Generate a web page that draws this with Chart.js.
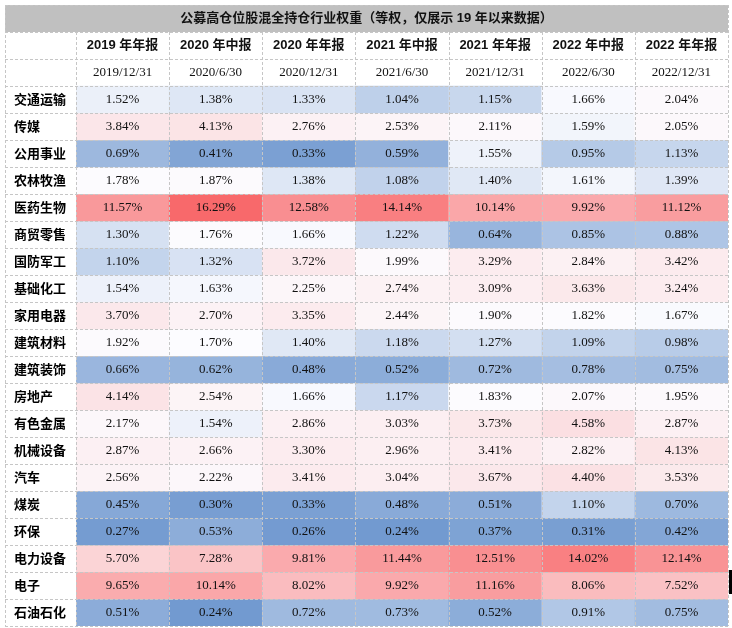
<!DOCTYPE html>
<html>
<head>
<meta charset="utf-8">
<script src="https://cdn.jsdelivr.net/npm/chart.js@4/dist/chart.umd.min.js"></script>
<style>
  html, body { margin: 0; padding: 0; background: #fff; }
  #wrap { width: 732px; height: 628px; position: relative; }
</style>
</head>
<body>
<div id="wrap"><canvas id="heatChart"></canvas></div>
<script>
const title = '公募高仓位股混全持仓行业权重（等权，仅展示 19 年以来数据）';
const periods = ['2019 年年报', '2020 年中报', '2020 年年报', '2021 年中报', '2021 年年报', '2022 年中报', '2022 年年报'];
const dates = ['2019/12/31', '2020/6/30', '2020/12/31', '2021/6/30', '2021/12/31', '2022/6/30', '2022/12/31'];
const industries = ['交通运输', '传媒', '公用事业', '农林牧渔', '医药生物', '商贸零售', '国防军工', '基础化工', '家用电器', '建筑材料',
  '建筑装饰', '房地产', '有色金属', '机械设备', '汽车', '煤炭', '环保', '电力设备', '电子', '石油石化'];

// weights (%) per report, same order as industries
const w2019a = [1.52, 3.84, 0.69, 1.78, 11.57, 1.30, 1.10, 1.54, 3.70, 1.92, 0.66, 4.14, 2.17, 2.87, 2.56, 0.45, 0.27, 5.70, 9.65, 0.51];
const w2020h = [1.38, 4.13, 0.41, 1.87, 16.29, 1.76, 1.32, 1.63, 2.70, 1.70, 0.62, 2.54, 1.54, 2.66, 2.22, 0.30, 0.53, 7.28, 10.14, 0.24];
const w2020a = [1.33, 2.76, 0.33, 1.38, 12.58, 1.66, 3.72, 2.25, 3.35, 1.40, 0.48, 1.66, 2.86, 3.30, 3.41, 0.33, 0.26, 9.81, 8.02, 0.72];
const w2021h = [1.04, 2.53, 0.59, 1.08, 14.14, 1.22, 1.99, 2.74, 2.44, 1.18, 0.52, 1.17, 3.03, 2.96, 3.04, 0.48, 0.24, 11.44, 9.92, 0.73];
const w2021a = [1.15, 2.11, 1.55, 1.40, 10.14, 0.64, 3.29, 3.09, 1.90, 1.27, 0.72, 1.83, 3.73, 3.41, 3.67, 0.51, 0.37, 12.51, 11.16, 0.52];
const w2022h = [1.66, 1.59, 0.95, 1.61, 9.92, 0.85, 2.84, 3.63, 1.82, 1.09, 0.78, 2.07, 4.58, 2.82, 4.40, 1.10, 0.31, 14.02, 8.06, 0.91];
const w2022a = [2.04, 2.05, 1.13, 1.39, 11.12, 0.88, 3.42, 3.24, 1.67, 0.98, 0.75, 1.95, 2.87, 4.13, 3.53, 0.70, 0.42, 12.14, 7.52, 0.75];
const columns = [w2019a, w2020h, w2020a, w2021h, w2021a, w2022h, w2022a];

// 3-colour scale over the whole table (blue - white - red)
const all = columns.flat();
const vMin = Math.min(...all), vMax = Math.max(...all), vMid = 1.70;
const RED = [248, 105, 107], WHITE = [252, 252, 255], BLUE = [114, 154, 208];
function mix(a, b, t) {
  return 'rgb(' + a.map((c, k) => Math.round(c + (b[k] - c) * t)).join(',') + ')';
}
function cellColor(v) {
  if (v >= vMid) return mix(WHITE, RED, Math.min(1, (v - vMid) / (vMax - vMid)));
  return mix(WHITE, BLUE, Math.min(1, (vMid - v) / (vMid - vMin)));
}

const LABEL_COL = 71; // width of the industry column
const lineColor = '#c6c6c6';

const tablePlugin = {
  id: 'tableDecor',
  beforeDatasetsDraw(chart) {
    const {ctx, chartArea: a, scales: {y}} = chart;
    const left = a.left - LABEL_COL;
    ctx.save();
    ctx.fillStyle = '#c0c0c0';
    const t0 = y.getPixelForValue(-3), t1 = y.getPixelForValue(-2);
    ctx.fillRect(left, t0, a.right - left, t1 - t0);
    ctx.restore();
  },
  afterDatasetsDraw(chart) {
    const {ctx, chartArea: a, scales: {x, y}} = chart;
    const left = a.left - LABEL_COL;
    const colW = x.getPixelForValue(1) - x.getPixelForValue(0);
    ctx.save();

    // dashed cell borders
    ctx.strokeStyle = lineColor;
    ctx.lineWidth = 1;
    ctx.setLineDash([3, 2]);
    ctx.beginPath();
    for (let k = -3; k <= industries.length; k++) {
      const py = Math.round(y.getPixelForValue(k)) + 0.5;
      ctx.moveTo(left, py);
      ctx.lineTo(a.right, py);
    }
    const top = y.getPixelForValue(-3), hdr = y.getPixelForValue(-2), bottom = y.getPixelForValue(industries.length);
    [left, a.right].forEach(px => {
      ctx.moveTo(Math.round(px) + 0.5, top);
      ctx.lineTo(Math.round(px) + 0.5, bottom);
    });
    for (let j = 0; j < periods.length; j++) {
      const px = Math.round(x.getPixelForValue(j) - colW / 2) + 0.5;
      ctx.moveTo(px, hdr);
      ctx.lineTo(px, bottom);
    }
    ctx.stroke();
    ctx.setLineDash([]);

    // title and header rows
    ctx.textAlign = 'center';
    ctx.textBaseline = 'middle';
    ctx.fillStyle = '#111';
    ctx.font = 'bold 13px "Liberation Sans", "Noto Sans CJK SC"';
    ctx.fillText(title, (left + a.right) / 2, y.getPixelForValue(-2.5));
    periods.forEach((p, j) => ctx.fillText(p, x.getPixelForValue(j), y.getPixelForValue(-1.5)));
    ctx.font = '13px "Liberation Serif"';
    dates.forEach((d, j) => ctx.fillText(d, x.getPixelForValue(j), y.getPixelForValue(-0.5)));

    // cell values
    chart.data.datasets.forEach((ds, i) => {
      const meta = chart.getDatasetMeta(i);
      meta.data.forEach((bar, j) => {
        ctx.fillText(ds.values[j].toFixed(2) + '%', bar.x, (bar.y + bar.base) / 2 + 0.5);
      });
    });

    // small dark mark on the right edge of the screenshot
    ctx.fillStyle = '#000';
    ctx.fillRect(a.right + 1, y.getPixelForValue(18) - 2, 3, y.getPixelForValue(19) - y.getPixelForValue(18) - 3);
    ctx.restore();
  }
};

const heatChart = new Chart(document.getElementById('heatChart'), {
  type: 'bar',
  data: {
    labels: periods,
    datasets: industries.map((name, i) => ({
      label: name,
      data: columns.map(() => [i, i + 1]),
      values: columns.map(col => col[i]),
      backgroundColor: columns.map(col => cellColor(col[i])),
      borderWidth: 0,
      barPercentage: 1,
      categoryPercentage: 1,
      grouped: false
    }))
  },
  options: {
    responsive: true,
    maintainAspectRatio: false,
    animation: false,
    layout: { padding: { left: 14, right: 4, top: 5, bottom: 2 } },
    plugins: {
      legend: { display: false },
      tooltip: { enabled: false }
    },
    scales: {
      x: { display: false },
      y: {
        type: 'linear',
        reverse: true,
        min: -3,
        max: industries.length,
        grid: { display: false },
        border: { display: false },
        afterBuildTicks: (scale) => {
          scale.ticks = industries.map((_, i) => ({ value: i + 0.5 }));
        },
        afterFit: (scale) => {
          scale.width = LABEL_COL - 9;
          scale.paddingTop = 0;
          scale.paddingBottom = 0;
        },
        ticks: {
          autoSkip: false,
          crossAlign: 'far',
          padding: 0,
          color: '#000',
          font: { family: '"Noto Sans CJK SC"', size: 13, weight: 'bold' },
          callback: (v, i) => industries[i]
        }
      }
    }
  },
  plugins: [tablePlugin]
});
</script>
</body>
</html>
